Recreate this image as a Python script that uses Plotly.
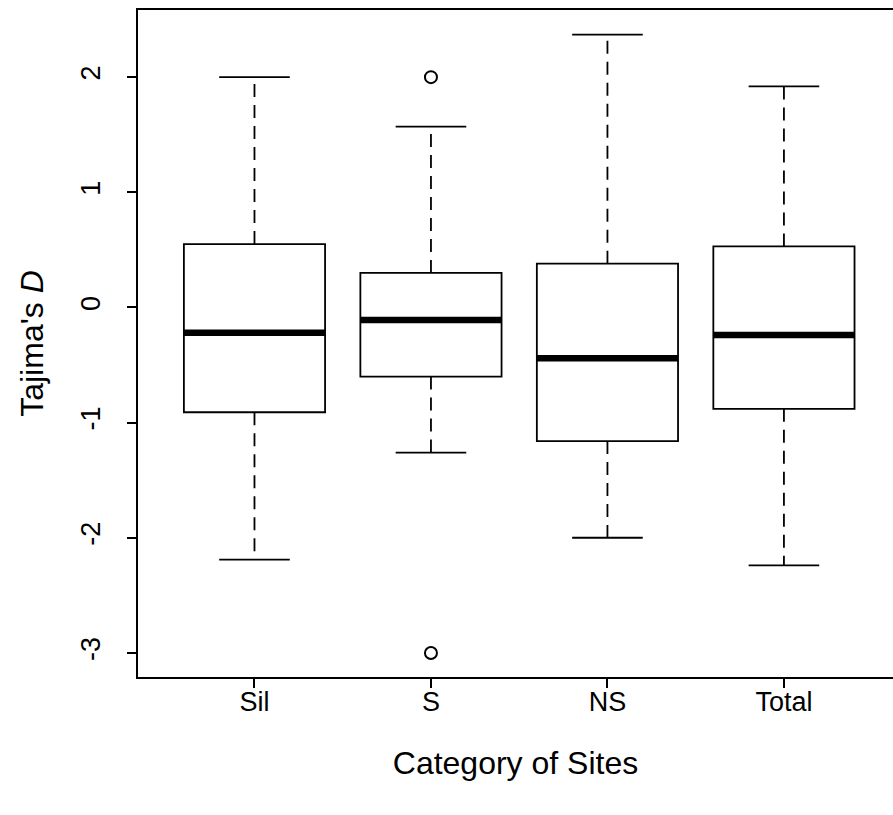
import plotly.graph_objects as go

categories = ["Sil", "S", "NS", "Total"]
upper_whisker = [2.0, 1.57, 2.37, 1.92]
q3 = [0.55, 0.30, 0.38, 0.53]
median = [-0.22, -0.11, -0.44, -0.24]
q1 = [-0.91, -0.60, -1.16, -0.88]
lower_whisker = [-2.19, -1.26, -2.00, -2.24]
outlier_cat = ["S", "S"]
outlier_val = [2.0, -3.0]

yticks = [-3, -2, -1, 0, 1, 2]

fig = go.Figure()
pos = {c: i + 1 for i, c in enumerate(categories)}
half = 0.4
cap = 0.2
lw = 1.8
for i, c in enumerate(categories):
    x = pos[c]
    for y0, y1 in ((q3[i], upper_whisker[i]), (q1[i], lower_whisker[i])):
        fig.add_shape(type="line", xref="x", yref="y", x0=x, x1=x, y0=y0, y1=y1, layer="below",
                      line=dict(color="black", width=lw, dash="13px,8px"))
    for yv in (upper_whisker[i], lower_whisker[i]):
        fig.add_shape(type="line", xref="x", yref="y", x0=x - cap, x1=x + cap, y0=yv, y1=yv, layer="below",
                      line=dict(color="black", width=lw))
    fig.add_shape(type="rect", xref="x", yref="y", x0=x - half, x1=x + half, y0=q1[i], y1=q3[i], layer="below",
                  line=dict(color="black", width=lw), fillcolor="white")

for i, c in enumerate(categories):
    x = pos[c]
    fig.add_trace(go.Scatter(x=[x - half, x + half], y=[median[i], median[i]], mode="lines",
                             line=dict(color="black", width=6.5), hoverinfo="skip", showlegend=False))

fig.add_trace(go.Scatter(x=[pos[c] for c in outlier_cat], y=outlier_val, mode="markers",
                         marker=dict(symbol="circle-open", size=12, color="black", line=dict(width=2)),
                         showlegend=False))

font = "Liberation Sans, Arial, sans-serif"
fig.update_layout(
    width=893, height=815,
    margin=dict(l=138, r=0, t=10, b=138),
    plot_bgcolor="white", paper_bgcolor="white",
    font=dict(family=font, size=27, color="black"),
    showlegend=False,
    xaxis=dict(range=[0.34, 4.618], tickvals=[1, 2, 3, 4], ticktext=categories,
               showline=True, linecolor="black", linewidth=2, mirror=True,
               ticks="outside", ticklen=9, tickwidth=2, tickcolor="black",
               showgrid=False, zeroline=False, ticklabelstandoff=-9,
               title=dict(text="Category of Sites", standoff=35),
               tickfont=dict(size=27)),
    yaxis=dict(range=[-3.209, 2.583], tickvals=yticks, ticktext=[str(v) for v in yticks],
               showline=True, linecolor="black", linewidth=2,
               ticks="outside", ticklen=9, tickwidth=2, tickcolor="black",
               showgrid=False, zeroline=False, tickangle=-90, ticklabelstandoff=16,
               title=dict(text="Tajima's <i>D</i>", standoff=23),
               tickfont=dict(size=27)),
)

fig.write_html("out.html")
